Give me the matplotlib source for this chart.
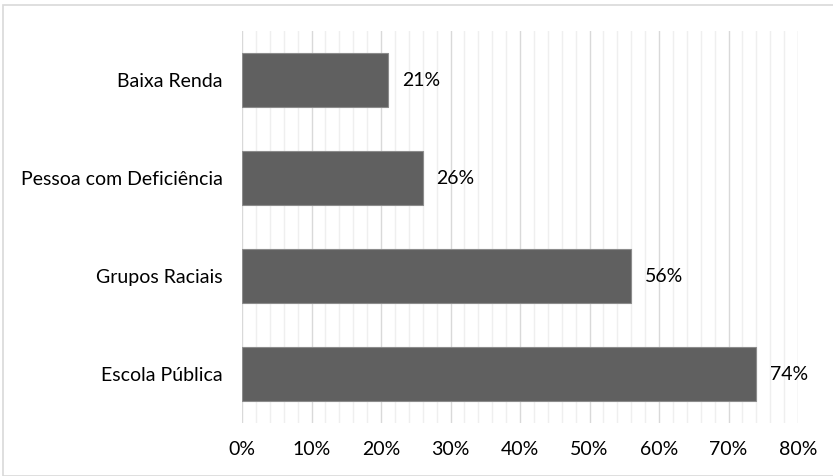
import matplotlib
matplotlib.use("Agg")
import matplotlib.pyplot as plt
from matplotlib.ticker import MultipleLocator, FuncFormatter
from matplotlib.patches import Rectangle

categories = ["Escola Pública", "Grupos Raciais", "Pessoa com Deficiência", "Baixa Renda"]
values = [74, 56, 26, 21]
x_ticks = [0, 10, 20, 30, 40, 50, 60, 70, 80]

plt.rcParams["font.family"] = ["Lato", "DejaVu Sans"]
FS = 14

fig = plt.figure(figsize=(8.33, 4.76), dpi=100)
ax = fig.add_axes([242 / 833, 1 - 423 / 476, 556 / 833, 392 / 476])

# light frame around the whole chart
fig.patches.append(Rectangle((3 / 833, 0.0), 1.0, 1 - 5 / 476, transform=fig.transFigure,
                             fill=False, edgecolor="#d9d9d9", linewidth=1.2))

pos = range(len(categories))
ax.barh(pos, values, height=0.56, color="#606060", edgecolor="#8c8c8c", linewidth=0.8, zorder=3)

for y, v in zip(pos, values):
    ax.text(v + 2.0, y, f"{v}%", va="center", ha="left", fontsize=FS, color="#000000")

ax.set_xlim(0, 80)
ax.set_ylim(-0.5, len(categories) - 0.5)
ax.set_xticks(x_ticks)
ax.xaxis.set_minor_locator(MultipleLocator(2))
ax.xaxis.set_major_formatter(FuncFormatter(lambda x, _: f"{x:.0f}%"))
ax.set_yticks(list(pos))
ax.set_yticklabels(categories)

ax.grid(axis="x", which="major", color="#d9d9d9", linewidth=1.0, zorder=0)
ax.grid(axis="x", which="minor", color="#efefef", linewidth=1.0, zorder=0)
ax.set_axisbelow(True)

for s in ax.spines.values():
    s.set_visible(False)
ax.tick_params(axis="both", which="both", length=0, labelsize=FS, colors="#000000")
ax.tick_params(axis="x", pad=13)
ax.tick_params(axis="y", pad=14)

fig.savefig("out.png", dpi=100)
